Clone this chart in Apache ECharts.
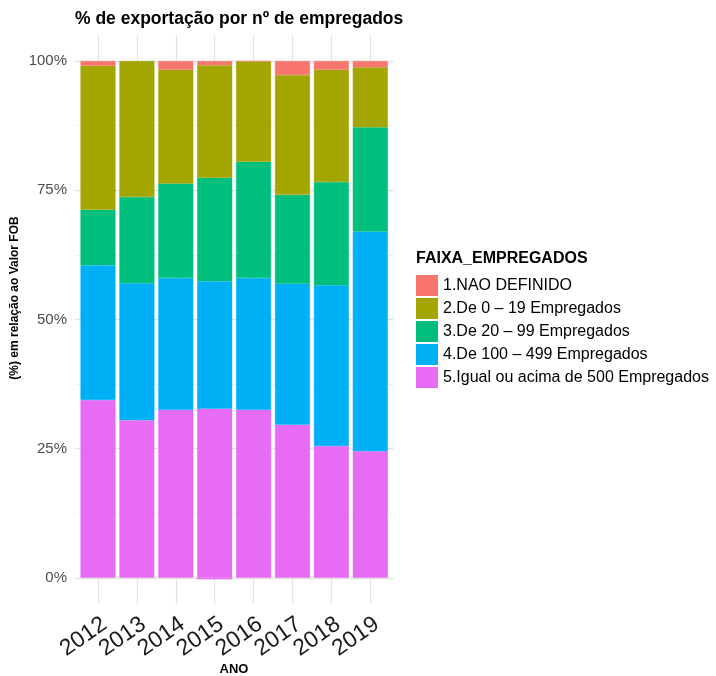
<!DOCTYPE html>
<html>
<head>
<meta charset="utf-8">
<script src="https://cdn.jsdelivr.net/npm/echarts@6/dist/echarts.min.js"></script>
<style>html,body{margin:0;padding:0;background:#fff}#c{width:716px;height:676px}</style>
</head>
<body>
<div id="c"></div>
<script>
const anos = ['2012','2013','2014','2015','2016','2017','2018','2019'];
const faixas = ['1.NAO DEFINIDO','2.De 0 \u2013 19 Empregados','3.De 20 \u2013 99 Empregados','4.De 100 \u2013 499 Empregados','5.Igual ou acima de 500 Empregados'];
const naoDefinido = [0.9, 0.0, 1.7, 0.8, 0.1, 2.7, 1.7, 1.2];
const de0a19 = [27.9, 26.3, 22.0, 21.8, 19.4, 23.2, 21.7, 11.6];
const de20a99 = [10.7, 16.7, 18.3, 20.0, 22.5, 17.2, 20.0, 20.2];
const de100a499 = [26.1, 26.5, 25.5, 24.7, 25.5, 27.3, 31.1, 42.5];
const acima500 = [34.4, 30.5, 32.5, 32.7, 32.5, 29.6, 25.5, 24.5];
const acima500Negativo = [0, 0, 0, -0.3, 0, 0, 0, 0];
const yTicks = [0, 25, 50, 75, 100];
const yMinor = [12.5, 37.5, 62.5, 87.5];
const cores = ['#F8766D','#A3A500','#00BF7D','#00B0F6','#E76BF3'];

(function () {
const seriesVals = [naoDefinido, de0a19, de20a99, de100a499, acima500];
const chart = echarts.init(document.getElementById('c'), null, {renderer:'canvas'});
const semZero = arr => arr.map(v => v === 0 ? '-' : v);

const gTop = 35.2, gHeight = 568.4;
const barSeries = [];
for (let i = 4; i >= 0; i--) {
  barSeries.push({
    name: faixas[i], type: 'bar', stack: 'total', xAxisIndex: 0, yAxisIndex: 0,
    data: semZero(seriesVals[i]), barCategoryGap: '10%',
    itemStyle: {color: cores[i], borderColor: cores[i], borderWidth: 0.5}, z: 3,
    emphasis: {disabled: true}
  });
}
barSeries.push({
  name: 'neg', type: 'bar', stack: 'total', xAxisIndex: 0, yAxisIndex: 0,
  data: semZero(acima500Negativo), barCategoryGap: '10%',
  itemStyle: {color: cores[4], borderColor: cores[4], borderWidth: 0.5}, z: 3
});

const option = {
  animation: false,
  backgroundColor: '#fff',
  grid: [
    {left: 78.55, width: 311.2, top: gTop, height: gHeight},
    {left: 75, width: 318.6, top: gTop, height: gHeight}
  ],
  xAxis: [
    {type: 'category', gridIndex: 0, data: anos,
     axisLine: {show: false}, axisTick: {show: false}, splitLine: {show: false},
     axisLabel: {interval: 0, rotate: 35, verticalAlign: 'top', fontSize: 23, color: '#1a1a1a', margin: 9,
       fontFamily: 'Liberation Sans, Arial, sans-serif'}},
    {type: 'value', gridIndex: 1, min: 0, max: 1, show: false}
  ],
  yAxis: [
    {type: 'value', gridIndex: 0, min: -5, max: 105, show: false, splitLine: {show: false}},
    {type: 'value', gridIndex: 1, min: -5, max: 105,
     axisLine: {show: false}, axisTick: {show: false}, splitLine: {show: false},
     axisLabel: {customValues: yTicks, formatter: v => v + '%', fontSize: 15, color: '#4d4d4d', margin: 8,
       fontFamily: 'Liberation Sans, Arial, sans-serif'}}
  ],
  legend: {
    orient: 'vertical', left: 416, top: 275, padding: 0, itemWidth: 22, itemHeight: 21, itemGap: 2,
    icon: 'rect', data: faixas, itemStyle: {borderWidth: 0},
    textStyle: {fontSize: 16, color: '#000', fontFamily: 'Liberation Sans, Arial, sans-serif'},
    selectedMode: false
  },
  graphic: [
    {type: 'text', left: 75, top: 10.5, style: {text: '% de exporta\u00e7\u00e3o por n\u00ba de empregados',
      font: 'bold 17.5px "Liberation Sans", Arial, sans-serif', fill: '#000'}},
    {type: 'text', left: 416, top: 251, style: {text: 'FAIXA_EMPREGADOS',
      font: 'bold 16px "Liberation Sans", Arial, sans-serif', fill: '#000'}},
    {type: 'text', x: 234, y: 669, style: {text: 'ANO', align: 'center', verticalAlign: 'middle',
      font: 'bold 13px "Liberation Sans", Arial, sans-serif', fill: '#000'}},
    {type: 'text', x: 14.5, y: 298, rotation: Math.PI/2, style: {text: '(%) em rela\u00e7\u00e3o ao Valor FOB', align: 'center', verticalAlign: 'middle',
      font: 'bold 12px "Liberation Sans", Arial, sans-serif', fill: '#000'}}
  ],
  series: [
    {type: 'line', xAxisIndex: 1, yAxisIndex: 1, data: [], z: 1, silent: true,
     markLine: {z: 1, silent: true, symbol: 'none', label: {show: false}, animation: false,
       data: yTicks.map(v => ({yAxis: v, lineStyle: {color: '#e3e3e3', width: 1.3, type: 'solid'}}))
         .concat(yMinor.map(v => ({yAxis: v, lineStyle: {color: '#eeeeee', width: 0.8, type: 'solid'}})))}},
    {type: 'line', xAxisIndex: 0, yAxisIndex: 0, data: [], z: 1, silent: true,
     markLine: {z: 1, silent: true, symbol: 'none', label: {show: false}, animation: false,
       data: anos.map(a => ({xAxis: a, lineStyle: {color: '#e3e3e3', width: 1.3, type: 'solid'}}))}}
  ].concat(barSeries)
};
chart.setOption(option);
})();
</script>
</body>
</html>
